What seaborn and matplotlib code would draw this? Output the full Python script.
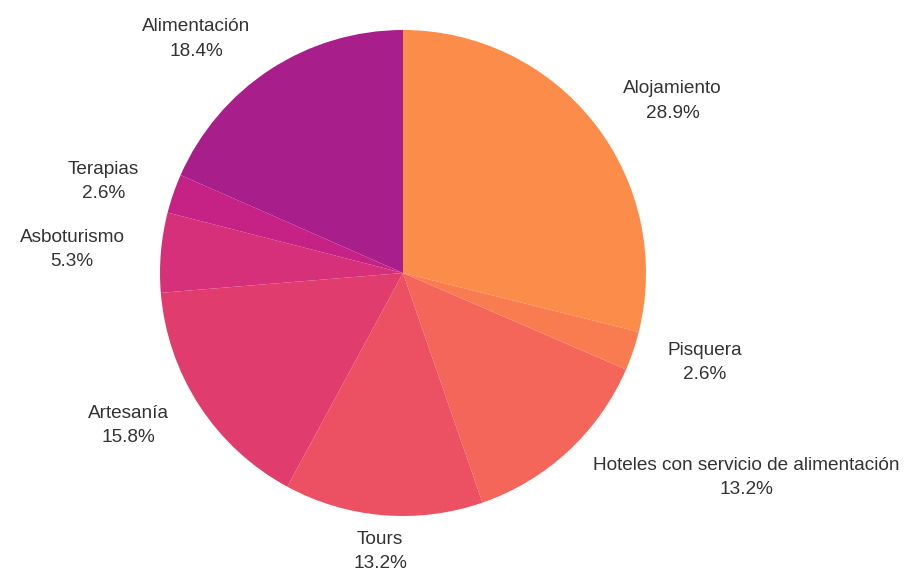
import numpy as np
import matplotlib
matplotlib.use("Agg")
import matplotlib.pyplot as plt
import seaborn as sns

# Data (clockwise from 12 o'clock)
categories = ["Alojamiento", "Pisquera", "Hoteles con servicio de alimentación",
              "Tours", "Artesanía", "Asboturismo", "Terapias", "Alimentación"]
percentages = [28.9, 2.6, 13.2, 13.2, 15.8, 5.3, 2.6, 18.4]
colors_hex = ["#fb8c4a", "#f97c50", "#f4665a", "#ec5063",
              "#e03c6d", "#d6307a", "#c62185", "#a81f8c"]

sns.set_theme(style="white")
plt.rcParams['font.family'] = ['Liberation Sans', 'DejaVu Sans']

W, H = 907, 578
fig = plt.figure(figsize=(W / 100, H / 100), dpi=100)
cx, cy, R = 403, 273, 243
ax = fig.add_axes([(cx - R) / W, (H - cy - R) / H, 2 * R / W, 2 * R / H])

palette = sns.color_palette(colors_hex)
wedges, _ = ax.pie(percentages, colors=palette, startangle=90, counterclock=False,
                   radius=1.0, wedgeprops=dict(linewidth=0))
ax.set_xlim(-1, 1)
ax.set_ylim(-1, 1)
ax.axis("off")

dist = 1.15
for w, cat, p in zip(wedges, categories, percentages):
    ang = np.deg2rad((w.theta1 + w.theta2) / 2)
    x, y = np.cos(ang), np.sin(ang)
    if x > 0.1:
        ha = "left"
    elif x < -0.1:
        ha = "right"
    else:
        ha = "center"
    ax.text(dist * x, dist * y, f"{cat}\n{p:.1f}%", ha=ha, va="center",
            multialignment="center", fontsize=13.7, color="#333333",
            linespacing=1.55, clip_on=False)

fig.savefig("out.png", dpi=100)
